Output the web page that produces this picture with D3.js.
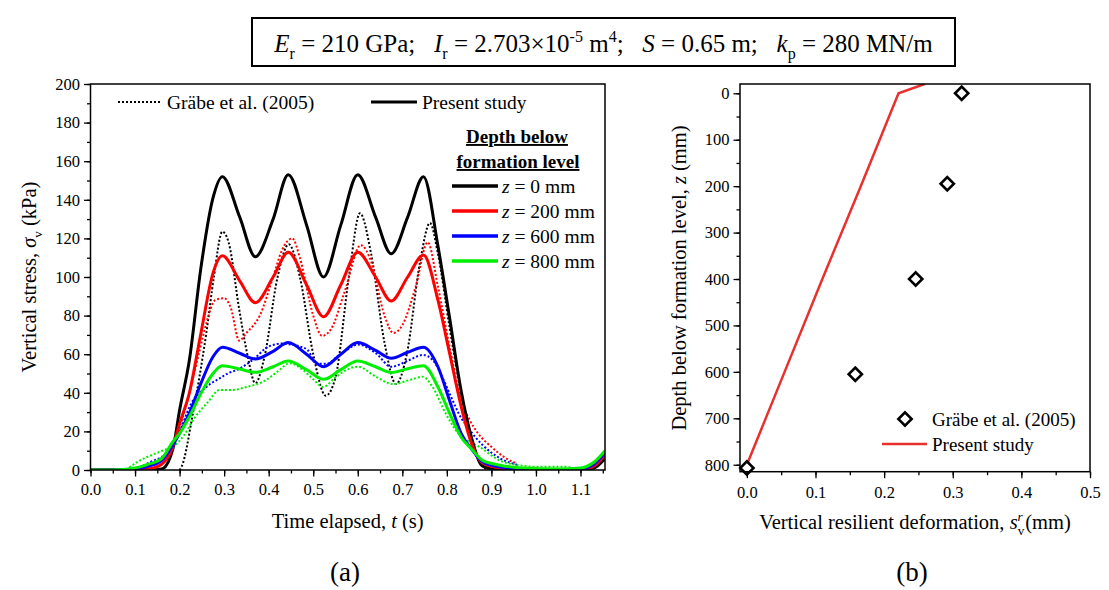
<!DOCTYPE html>
<html>
<head>
<meta charset="utf-8">
<script src="https://cdn.jsdelivr.net/npm/d3@7"></script>
<style>
body{margin:0;background:#fff;}
svg text{font-family:"Liberation Serif","Times New Roman",serif;fill:#000;}
</style>
</head>
<body>
<svg id="fig" width="1109" height="590"></svg>
<script>
// ---- panel (a): vertical stress vs time ----
var depthLabels = ['0', '200', '600', '800'];
var depthColors = ['#000000', '#ff0000', '#0000ff', '#00ee00'];

// present study (solid), common time grid
var timeSolid = [0, 0.05, 0.1, 0.13, 0.16, 0.185, 0.2, 0.222, 0.248, 0.275, 0.296, 0.335, 0.37, 0.41, 0.444, 0.485, 0.523, 0.562, 0.6, 0.64, 0.675, 0.712, 0.7475, 0.78, 0.806, 0.832, 0.855, 0.88, 0.92, 0.97, 1.05, 1.1, 1.13, 1.155];
var stress0 = [0, 0, 0, 0, 0.5, 11, 31, 57, 105, 141, 152, 131, 110.5, 130, 153, 127, 100, 127, 153, 131, 112, 131, 152, 116, 79, 41, 17, 2, 0, 0, 0, 0, 1, 6];
var stress200 = [0, 0, 0, 0.5, 3, 12, 24, 40, 71, 102, 111, 98, 86.7, 100, 112.8, 96, 79.4, 96, 112.8, 100, 87.6, 100, 111.4, 88, 60.6, 33, 14, 3.6, 1, 0.3, 0, 0.3, 2, 8];
var stress600 = [0, 0, 0.5, 2, 5, 13, 19, 29.5, 45, 58.7, 63.6, 60.5, 57.5, 61.5, 66, 60, 53.5, 60, 66, 62, 57.9, 61, 63.6, 53.5, 36, 19, 11, 4.3, 1.5, 0.5, 0.2, 0.5, 3, 9];
var stress800 = [0, 0, 1, 3, 6, 14.7, 19, 27.6, 39.7, 50, 54, 52.3, 50.6, 53.5, 56.5, 52, 47, 52, 56.5, 53.5, 50.5, 52.5, 54, 43, 29.5, 17, 11, 5, 2.5, 1, 0.5, 1, 4, 10];

// Grabe et al. (2005) (dotted), each with its own time points
var grabeT0 = [0.2, 0.205, 0.23, 0.26, 0.277, 0.296, 0.31, 0.334, 0.352, 0.37, 0.39, 0.42, 0.445, 0.47, 0.5, 0.528, 0.55, 0.58, 0.605, 0.63, 0.66, 0.686, 0.71, 0.74, 0.762, 0.78, 0.806, 0.832, 0.855, 0.873, 0.89];
var grabeV0 = [0, 2, 29.5, 71, 100, 123.5, 118, 83, 60, 45, 58, 100, 117, 100, 60, 38.5, 48, 100, 133, 112, 66, 44.5, 60, 108, 128, 112, 74, 40, 17, 5, 0];
var grabeT200 = [0.1, 0.14, 0.17, 0.2, 0.222, 0.245, 0.26, 0.28, 0.3, 0.315, 0.334, 0.35, 0.38, 0.41, 0.43, 0.453, 0.47, 0.5, 0.52, 0.54, 0.57, 0.607, 0.63, 0.66, 0.68, 0.7, 0.73, 0.757, 0.78, 0.806, 0.832, 0.851, 0.87, 0.9, 0.93, 0.955];
var grabeV200 = [0, 3, 9, 22, 40, 62, 76, 88, 89, 84, 67, 71, 80, 100, 114, 120, 110, 80, 69.5, 73, 92, 116.5, 108, 80, 71, 75, 95, 118, 95, 64, 36, 26, 19, 12, 6.5, 3.5];
var grabeT600 = [0.084, 0.11, 0.136, 0.174, 0.2, 0.225, 0.26, 0.29, 0.308, 0.33, 0.364, 0.4, 0.43, 0.45, 0.47, 0.488, 0.507, 0.53, 0.555, 0.574, 0.6, 0.641, 0.675, 0.716, 0.746, 0.768, 0.79, 0.806, 0.832, 0.847, 0.88, 0.92, 0.959];
var grabeV600 = [0, 1.5, 4.3, 9.5, 20, 34, 43, 47.5, 50, 52, 57, 64, 65.5, 65, 64, 62, 55, 55, 59, 62, 65, 60.4, 53.5, 57, 59.6, 57, 48, 39.7, 27, 22, 13, 6, 2.6];
var grabeT800 = [0.08, 0.106, 0.14, 0.166, 0.19, 0.21, 0.233, 0.263, 0.29, 0.32, 0.35, 0.394, 0.42, 0.447, 0.477, 0.5, 0.522, 0.55, 0.574, 0.6, 0.641, 0.679, 0.716, 0.746, 0.768, 0.798, 0.832, 0.848, 0.873, 0.918, 0.96, 1.0, 1.068, 1.09];
var grabeV800 = [0, 4.3, 8, 10.4, 13, 18, 26.8, 35, 41.5, 41.5, 43, 46.6, 51, 55.3, 51.8, 47, 43, 48, 51.8, 53.5, 48.3, 44.5, 46.6, 48.3, 43, 29, 17.3, 15, 12, 5, 2.5, 1.7, 1.7, 0];

var timeTicks = [0, 0.1, 0.2, 0.3, 0.4, 0.5, 0.6, 0.7, 0.8, 0.9, 1.0, 1.1];
var stressTicks = [0, 20, 40, 60, 80, 100, 120, 140, 160, 180, 200];

// ---- panel (b): resilient deformation vs depth ----
var grabeSv = [0.313, 0.292, 0.246, 0.158, 0.0];
var grabeZ = [0, 195, 400, 605, 807];
var presentSv = [0, 0.055, 0.11, 0.166, 0.221, 0.259];
var presentZ = [800, 600, 400, 200, 0, -20];
var svTicks = [0, 0.1, 0.2, 0.3, 0.4, 0.5];
var zTicks = [0, 100, 200, 300, 400, 500, 600, 700, 800];

var svg = d3.select('#fig');

// rich text with italic / sub / superscript parts
function richText(g, x, y, size, parts, anchor){
    var t = g.append('text')
        .attr('x', x).attr('y', y)
        .attr('text-anchor', anchor || 'start')
        .style('font-size', size + 'px')
        .style('white-space', 'pre');
    var shift = 0;
    parts.forEach(function(p){
        if(typeof p === 'string') p = {t: p};
        var target = p.sub ? size * 0.28 : (p.sup ? -size * 0.4 : 0);
        var ts = t.append('tspan').text(p.t).attr('dy', target - shift);
        if(p.sub || p.sup) ts.style('font-size', (size * 0.64) + 'px');
        if(p.i) ts.style('font-style', 'italic');
        if(p.dx) ts.attr('dx', p.dx);
        shift = target;
    });
    return t;
}

function styleAxis(g, size){
    g.select('.domain').remove();
    g.selectAll('line').attr('stroke', '#000').attr('stroke-width', 1.3);
    g.selectAll('text').style('font-size', size + 'px')
        .style('font-family', '"Liberation Serif","Times New Roman",serif').attr('fill', '#000');
    g.attr('font-family', null).attr('font-size', null);
}

// ---- header ----
svg.append('rect')
    .attr('x', 252).attr('y', 18).attr('width', 703).attr('height', 48)
    .attr('fill', 'none').attr('stroke', '#000').attr('stroke-width', 2);
richText(svg, 603.5, 52, 25, [
    {t: 'E', i: true}, {t: 'r', sub: true}, ' = 210 GPa;   ',
    {t: 'I', i: true}, {t: 'r', sub: true}, ' = 2.703×10', {t: '-5', sup: true}, ' m', {t: '4', sup: true}, ';   ',
    {t: 'S', i: true}, ' = 0.65 m;   ',
    {t: 'k', i: true}, {t: 'p', sub: true}, ' = 280 MN/m'
], 'middle');

// ---- panel (a) ----
var ax = {l: 90.5, r: 605, t: 84, b: 470};
var xA = d3.scaleLinear().domain([0, 1.155]).range([ax.l, ax.r]);
var yA = d3.scaleLinear().domain([0, 200]).range([ax.b, ax.t]);

svg.append('clipPath').attr('id', 'clipA')
    .append('rect').attr('x', ax.l).attr('y', ax.t).attr('width', ax.r - ax.l).attr('height', ax.b - ax.t);

var plotA = svg.append('g').attr('clip-path', 'url(#clipA)');
var lineA = d3.line()
    .x(function(d){ return xA(d[0]); })
    .y(function(d){ return yA(d[1]); })
    .curve(d3.curveMonotoneX);

var grabeTimes = [grabeT0, grabeT200, grabeT600, grabeT800];
var grabeVals = [grabeV0, grabeV200, grabeV600, grabeV800];
var solidVals = [stress0, stress200, stress600, stress800];

// dotted measurements first, model curves on top
for(var i = 0; i < 4; i++){
    var pts = d3.zip(grabeTimes[i], grabeVals[i]);
    plotA.append('path')
        .attr('d', lineA(pts))
        .attr('fill', 'none')
        .attr('stroke', depthColors[i])
        .attr('stroke-width', 2)
        .attr('stroke-dasharray', '2,2');
}
for(var i = 0; i < 4; i++){
    var pts = d3.zip(timeSolid, solidVals[i]);
    plotA.append('path')
        .attr('d', lineA(pts))
        .attr('fill', 'none')
        .attr('stroke', depthColors[i])
        .attr('stroke-width', 3)
        .attr('stroke-linejoin', 'round');
}

// axes (a)
var minorT = d3.range(0, 24).map(function(i){ return i * 0.05; });
var minorS = d3.range(0, 21).map(function(i){ return i * 10; });
svg.append('g').attr('transform', 'translate(0,' + ax.b + ')')
    .call(d3.axisBottom(xA).tickValues(minorT).tickFormat('').tickSize(3.5))
    .call(styleAxis, 16);
svg.append('g').attr('transform', 'translate(0,' + ax.b + ')')
    .call(d3.axisBottom(xA).tickValues(timeTicks).tickFormat(d3.format('.1f')).tickSize(6.5).tickPadding(7))
    .call(styleAxis, 16.5);
svg.append('g').attr('transform', 'translate(' + ax.l + ',0)')
    .call(d3.axisLeft(yA).tickValues(minorS).tickFormat('').tickSize(3.5))
    .call(styleAxis, 16);
svg.append('g').attr('transform', 'translate(' + ax.l + ',0)')
    .call(d3.axisLeft(yA).tickValues(stressTicks).tickSize(6.5).tickPadding(4))
    .call(styleAxis, 16.5);
svg.append('rect')
    .attr('x', ax.l).attr('y', ax.t).attr('width', ax.r - ax.l).attr('height', ax.b - ax.t)
    .attr('fill', 'none').attr('stroke', '#000').attr('stroke-width', 1.5);

richText(svg, (ax.l + ax.r) / 2, 528, 20.5, ['Time elapsed, ', {t: 't', i: true}, ' (s)'], 'middle');
richText(svg.append('g').attr('transform', 'rotate(-90)'), -277, 36, 20.5,
    ['Vertical stress, ', {t: 'σ', i: true}, {t: 'v', sub: true}, ' (kPa)'], 'middle');
svg.append('text').attr('x', 345).attr('y', 581).attr('text-anchor', 'middle')
    .style('font-size', '27px').text('(a)');

// legend (a)
var legA = svg.append('g');
legA.append('line').attr('x1', 118).attr('x2', 160).attr('y1', 102).attr('y2', 102)
    .attr('stroke', '#000').attr('stroke-width', 2).attr('stroke-dasharray', '2,2');
legA.append('text').attr('x', 167).attr('y', 108.5).style('font-size', '19.5px').text('Gräbe et al. (2005)');
legA.append('line').attr('x1', 371).attr('x2', 417).attr('y1', 102).attr('y2', 102)
    .attr('stroke', '#000').attr('stroke-width', 3);
legA.append('text').attr('x', 422).attr('y', 108.5).style('font-size', '19.5px').text('Present study');
legA.append('text').attr('x', 517).attr('y', 143).attr('text-anchor', 'middle')
    .style('font-size', '19px').style('font-weight', 'bold').style('text-decoration', 'underline')
    .text('Depth below');
legA.append('text').attr('x', 518).attr('y', 168).attr('text-anchor', 'middle')
    .style('font-size', '19px').style('font-weight', 'bold').style('text-decoration', 'underline')
    .text('formation level');
depthLabels.forEach(function(d, i){
    var y = 186 + i * 25;
    legA.append('line').attr('x1', 452).attr('x2', 498).attr('y1', y).attr('y2', y)
        .attr('stroke', depthColors[i]).attr('stroke-width', 3.5);
    richText(legA, 502, y + 6.5, 19.5, [{t: 'z', i: true}, ' = ' + d + ' mm']);
});

// ---- panel (b) ----
var bx = {l: 740, r: 1090, t: 84, b: 471.7};
var xB = d3.scaleLinear().domain([-0.01, 0.5]).range([bx.l, bx.r]);
var yB = d3.scaleLinear().domain([-20, 815]).range([bx.t, bx.b]);

svg.append('clipPath').attr('id', 'clipB')
    .append('rect').attr('x', bx.l).attr('y', bx.t).attr('width', bx.r - bx.l).attr('height', bx.b - bx.t);
var plotB = svg.append('g').attr('clip-path', 'url(#clipB)');

var lineB = d3.line()
    .x(function(d){ return xB(d[0]); })
    .y(function(d){ return yB(d[1]); });
plotB.append('path')
    .attr('d', lineB(d3.zip(presentSv, presentZ)))
    .attr('fill', 'none').attr('stroke', '#e8312f').attr('stroke-width', 2.5);

var diamond = d3.symbol().type(d3.symbolSquare).size(88);
svg.append('g').selectAll('path')
    .data(d3.zip(grabeSv, grabeZ))
    .enter().append('path')
    .attr('d', diamond)
    .attr('transform', function(d){ return 'translate(' + xB(d[0]) + ',' + yB(d[1]) + ') rotate(45)'; })
    .attr('fill', '#fff').attr('stroke', '#000').attr('stroke-width', 2.6);

var minorSv = d3.range(0, 11).map(function(i){ return i * 0.05; });
var minorZ = d3.range(0, 17).map(function(i){ return i * 50; });
svg.append('g').attr('transform', 'translate(0,' + bx.b + ')')
    .call(d3.axisBottom(xB).tickValues(minorSv).tickFormat('').tickSize(3.5))
    .call(styleAxis, 16);
svg.append('g').attr('transform', 'translate(0,' + bx.b + ')')
    .call(d3.axisBottom(xB).tickValues(svTicks).tickFormat(d3.format('.1f')).tickSize(6.5).tickPadding(8))
    .call(styleAxis, 16.5);
svg.append('g').attr('transform', 'translate(' + bx.l + ',0)')
    .call(d3.axisLeft(yB).tickValues(minorZ).tickFormat('').tickSize(3.5))
    .call(styleAxis, 16);
svg.append('g').attr('transform', 'translate(' + bx.l + ',0)')
    .call(d3.axisLeft(yB).tickValues(zTicks).tickSize(6.5).tickPadding(4))
    .call(styleAxis, 16.5);
svg.append('rect')
    .attr('x', bx.l).attr('y', bx.t).attr('width', bx.r - bx.l).attr('height', bx.b - bx.t)
    .attr('fill', 'none').attr('stroke', '#000').attr('stroke-width', 1.5);

richText(svg, (bx.l + bx.r) / 2, 529, 20.5, [
    'Vertical resilient deformation, ', {t: 's', i: true}, {t: 'r', sup: true, i: true},
    {t: 'v', sub: true, dx: -5}, {t: '(mm)', dx: 1}
], 'middle');
richText(svg.append('g').attr('transform', 'rotate(-90)'), -278, 686, 20.5,
    ['Depth below formation level, ', {t: 'z', i: true}, ' (mm)'], 'middle');
svg.append('text').attr('x', 912).attr('y', 581).attr('text-anchor', 'middle')
    .style('font-size', '27px').text('(b)');

// legend (b)
var legB = svg.append('g');
legB.append('path').attr('d', diamond)
    .attr('transform', 'translate(905,419) rotate(45)')
    .attr('fill', '#fff').attr('stroke', '#000').attr('stroke-width', 2.6);
legB.append('text').attr('x', 932).attr('y', 426).style('font-size', '19px').text('Gräbe et al. (2005)');
legB.append('line').attr('x1', 882).attr('x2', 927).attr('y1', 444).attr('y2', 444)
    .attr('stroke', '#e8312f').attr('stroke-width', 2.5);
legB.append('text').attr('x', 932).attr('y', 451).style('font-size', '19px').text('Present study');
</script>
</body>
</html>
